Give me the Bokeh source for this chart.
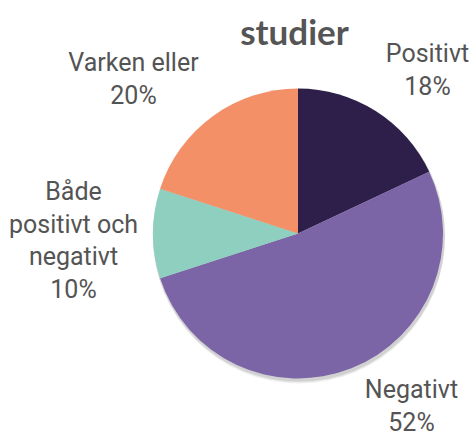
import numpy as np
from bokeh.plotting import figure
from bokeh.models import Range1d, ColumnDataSource
from bokeh.core.properties import value
from bokeh.embed import file_html
from bokeh.resources import INLINE

# ---- data ----
title = "studier"
categories = ["Positivt", "Negativt", "Både positivt och negativt", "Varken eller"]
label_lines = [["Positivt"], ["Negativt"], ["Både", "positivt och", "negativt"], ["Varken eller"]]
percent = [18, 52, 10, 20]
colors = ["#2d1f49", "#7c65a7", "#8ecfbf", "#f39068"]

# ---- layout (screen coords of picture) ----
W, H = 471, 436
cx, cy, R = 297.5, 233.0, 145.0
label_pos = [(427, 53), (411, 389), (73, 191), (133, 62)]  # first-line centers
line_gap = 32.5

def sy(y):
    return H - y

p = figure(width=W, height=H, output_backend="svg", toolbar_location=None,
           x_range=Range1d(0, W), y_range=Range1d(0, H),
           min_border=0)
p.axis.visible = False
p.grid.visible = False
p.outline_line_color = None
p.background_fill_color = "white"
p.border_fill_color = "white"

vals = np.array(percent, dtype=float)
frac = vals / vals.sum()
ang = frac * 2 * np.pi
start = np.pi / 2 - np.concatenate([[0], np.cumsum(ang)[:-1]])
end = start - ang

# soft shadow
for off, a in [(4, 0.06), (3, 0.08), (2, 0.10)]:
    p.circle(x=[cx + 1], y=[sy(cy) - off], radius=R + 1, fill_color="#333333",
             fill_alpha=a, line_color=None)

src = ColumnDataSource(dict(start=start, end=end, color=colors, cat=categories))
p.wedge(x=cx, y=sy(cy), radius=R, start_angle="start", end_angle="end",
        direction="clock", fill_color="color", line_color=None, source=src)

# labels
xs, ys, texts = [], [], []
for (lx, ly), lines, pc in zip(label_pos, label_lines, percent):
    allines = lines + [f"{pc}%"]
    for k, t in enumerate(allines):
        xs.append(lx)
        ys.append(sy(ly + k * line_gap))
        texts.append(t)
p.text(x=xs, y=ys, text=texts, text_font=value("Roboto"), text_font_size="25px",
       text_color="#545454", text_align="center", text_baseline="middle")

p.text(x=[294], y=[sy(30)], text=[title], text_font=value("Lato"), text_font_style="bold",
       text_font_size="35px", text_color="#555555", text_align="center", text_baseline="middle")

open("out.html", "w").write(file_html(p, INLINE))
